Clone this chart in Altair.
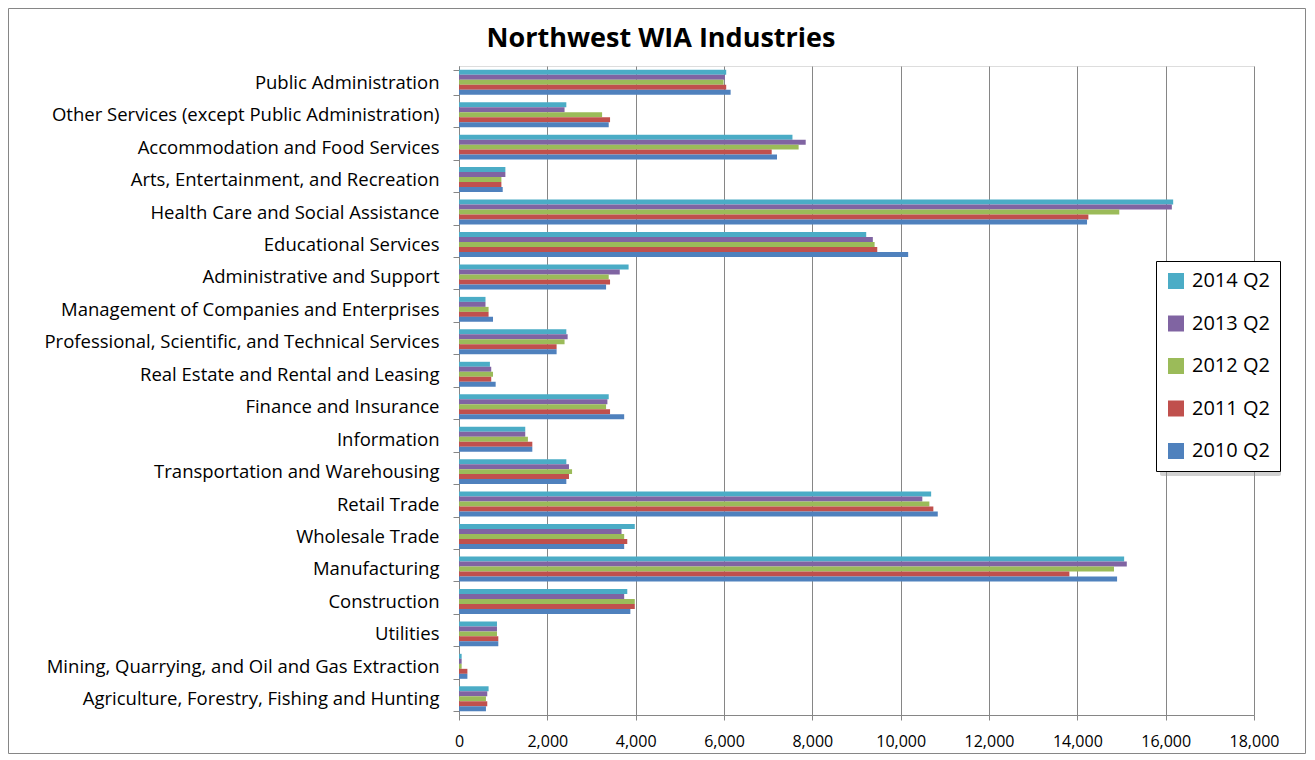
import altair as alt
import pandas as pd

categories = [
    "Public Administration",
    "Other Services (except Public Administration)",
    "Accommodation and Food Services",
    "Arts, Entertainment, and Recreation",
    "Health Care and Social Assistance",
    "Educational Services",
    "Administrative and Support",
    "Management of Companies and Enterprises",
    "Professional, Scientific, and Technical Services",
    "Real Estate and Rental and Leasing",
    "Finance and Insurance",
    "Information",
    "Transportation and Warehousing",
    "Retail Trade",
    "Wholesale Trade",
    "Manufacturing",
    "Construction",
    "Utilities",
    "Mining, Quarrying, and Oil and Gas Extraction",
    "Agriculture, Forestry, Fishing and Hunting",
]

series = ["2014 Q2", "2013 Q2", "2012 Q2", "2011 Q2", "2010 Q2"]
colors = ["#4BACC6", "#8064A2", "#9BBB59", "#C0504D", "#4F81BD"]

v2014 = [6050, 2430, 7550, 1050, 16170, 9220, 3840, 600, 2430, 700, 3390, 1500, 2430, 10690, 3980, 15060, 3810, 860, 60, 670]
v2013 = [6020, 2390, 7850, 1050, 16140, 9370, 3640, 600, 2460, 730, 3360, 1500, 2490, 10490, 3680, 15120, 3740, 860, 60, 640]
v2012 = [5990, 3240, 7690, 960, 14950, 9410, 3390, 670, 2390, 770, 3330, 1560, 2560, 10650, 3740, 14830, 3980, 860, 60, 610]
v2011 = [6050, 3420, 7080, 960, 14250, 9470, 3420, 670, 2210, 730, 3420, 1660, 2490, 10740, 3810, 13820, 3980, 890, 190, 640]
v2010 = [6150, 3390, 7200, 990, 14220, 10170, 3330, 770, 2210, 830, 3740, 1660, 2430, 10840, 3740, 14900, 3880, 890, 190, 610]

values = [v2014, v2013, v2012, v2011, v2010]

x_ticks = [0, 2000, 4000, 6000, 8000, 10000, 12000, 14000, 16000, 18000]

title_text = "Northwest WIA Industries"

rows = []
for s, vals in zip(series, values):
    for c, v in zip(categories, vals):
        rows.append({"Industry": c, "Quarter": s, "Employment": v})
df = pd.DataFrame(rows)

W = 795
H = 649
FONT = "Open Sans"
LEG_X, LEG_Y = 697, 195

border = alt.Chart(alt.Data(values=[{"a": 1}])).mark_rect(
    fillOpacity=0, stroke="#868686", strokeWidth=1
).encode(
    x=alt.value(-450.5), x2=alt.value(W + 51.5),
    y=alt.value(-57.5), y2=alt.value(H + 38.5),
)

title = alt.Chart(alt.Data(values=[{"t": title_text}])).mark_text(
    font=FONT, fontSize=27, fontWeight="bold", color="black",
    align="center", baseline="alphabetic",
).encode(
    text="t:N", x=alt.value(202), y=alt.value(-19),
)

shadow = alt.Chart(alt.Data(values=[{"a": 1}])).mark_rect(
    fill="#9a9a9a", opacity=0.45, cornerRadius=2
).encode(
    x=alt.value(LEG_X + 4), x2=alt.value(LEG_X + 125),
    y=alt.value(LEG_Y + 4), y2=alt.value(LEG_Y + 215),
)

bars = alt.Chart(df).mark_bar().encode(
    x=alt.X(
        "Employment:Q",
        scale=alt.Scale(domain=[0, 18000], nice=False),
        axis=alt.Axis(
            values=x_ticks, format=",.0f", title=None, grid=True,
            gridColor="#868686", gridWidth=1, domainColor="#868686",
            tickColor="#868686", tickSize=5, labelPadding=13, labelFlush=False,
            labelFontSize=16, labelColor="black", labelFont=FONT,
        ),
    ),
    y=alt.Y(
        "Industry:N", sort=categories,
        scale=alt.Scale(paddingInner=0.23, paddingOuter=0.115),
        axis=alt.Axis(
            title=None, tickBand="extent", tickSize=6, tickColor="#868686",
            domainColor="#868686", labelPadding=14, labelFontSize=18.5,
            labelColor="black", labelFont=FONT, labelLimit=460, grid=False,
        ),
    ),
    yOffset=alt.YOffset("Quarter:N", sort=series, scale=alt.Scale(paddingInner=0, paddingOuter=0)),
    color=alt.Color(
        "Quarter:N", sort=series,
        scale=alt.Scale(domain=series, range=colors),
        legend=alt.Legend(
            title=None, orient="none", legendX=LEG_X, legendY=LEG_Y,
            symbolType="square", symbolSize=256, symbolStrokeWidth=0,
            labelFontSize=20, labelFont=FONT, labelColor="black",
            rowPadding=22.5, labelOffset=6, padding=10,
            strokeColor="black", fillColor="white",
        ),
    ),
)

chart = alt.layer(border, title, shadow, bars).properties(
    width=W, height=H,
    autosize=alt.AutoSizeParams(type="none"),
    padding={"left": 451, "top": 58, "right": 52, "bottom": 40},
).configure_view(stroke=None).configure(font=FONT)

chart.save("out.html", embed_options={"renderer": "svg", "actions": False})
